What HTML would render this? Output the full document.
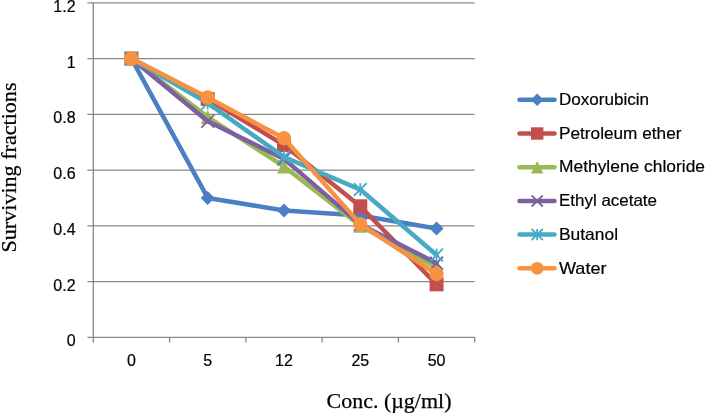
<!DOCTYPE html>
<html><head><meta charset="utf-8"><style>
html,body{margin:0;padding:0;background:#fff;}
body{width:705px;height:413px;overflow:hidden;position:relative;}
svg{position:absolute;left:0;top:0;will-change:transform;}
.t{font-family:"Liberation Sans",sans-serif;font-size:16px;fill:#000;stroke:#000;stroke-width:0.2px;}
.l{font-family:"Liberation Sans",sans-serif;font-size:16.5px;fill:#000;stroke:#000;stroke-width:0.2px;}
.s{font-family:"Liberation Serif",serif;font-size:22px;fill:#000;stroke:#000;stroke-width:0.25px;}
</style></head><body>
<svg width="705" height="413" viewBox="0 0 705 413">
<line x1="87.4" y1="337.30" x2="474.70" y2="337.30" stroke="#878787" stroke-width="1.3"/>
<line x1="87.4" y1="281.55" x2="474.70" y2="281.55" stroke="#878787" stroke-width="1.3"/>
<line x1="87.4" y1="225.80" x2="474.70" y2="225.80" stroke="#878787" stroke-width="1.3"/>
<line x1="87.4" y1="170.05" x2="474.70" y2="170.05" stroke="#878787" stroke-width="1.3"/>
<line x1="87.4" y1="114.30" x2="474.70" y2="114.30" stroke="#878787" stroke-width="1.3"/>
<line x1="87.4" y1="58.55" x2="474.70" y2="58.55" stroke="#878787" stroke-width="1.3"/>
<line x1="87.4" y1="2.80" x2="474.70" y2="2.80" stroke="#878787" stroke-width="1.3"/>
<line x1="93.30" y1="2.80" x2="93.30" y2="342.6" stroke="#878787" stroke-width="1.3"/>
<line x1="169.58" y1="337.30" x2="169.58" y2="342.6" stroke="#878787" stroke-width="1.3"/>
<line x1="245.86" y1="337.30" x2="245.86" y2="342.6" stroke="#878787" stroke-width="1.3"/>
<line x1="322.14" y1="337.30" x2="322.14" y2="342.6" stroke="#878787" stroke-width="1.3"/>
<line x1="398.42" y1="337.30" x2="398.42" y2="342.6" stroke="#878787" stroke-width="1.3"/>
<line x1="474.70" y1="337.30" x2="474.70" y2="342.6" stroke="#878787" stroke-width="1.3"/>
<text x="75.6" y="346.40" text-anchor="end" class="t">0</text>
<text x="75.6" y="290.65" text-anchor="end" class="t">0.2</text>
<text x="75.6" y="234.90" text-anchor="end" class="t">0.4</text>
<text x="75.6" y="179.15" text-anchor="end" class="t">0.6</text>
<text x="75.6" y="123.40" text-anchor="end" class="t">0.8</text>
<text x="75.6" y="67.65" text-anchor="end" class="t">1</text>
<text x="75.6" y="11.90" text-anchor="end" class="t">1.2</text>
<text x="131.44" y="366.2" text-anchor="middle" class="t">0</text>
<text x="207.72" y="366.2" text-anchor="middle" class="t">5</text>
<text x="284.00" y="366.2" text-anchor="middle" class="t">12</text>
<text x="360.28" y="366.2" text-anchor="middle" class="t">25</text>
<text x="436.56" y="366.2" text-anchor="middle" class="t">50</text>
<polyline points="131.44,58.55 207.72,197.93 284.00,210.47 360.28,215.49 436.56,228.59" fill="none" stroke="#4A7FC2" stroke-width="4.5" stroke-linejoin="round" stroke-linecap="round"/>
<path d="M131.44,51.55 L138.44,58.55 L131.44,65.55 L124.44,58.55Z" fill="#4A7FC2"/>
<path d="M207.72,190.93 L214.72,197.93 L207.72,204.93 L200.72,197.93Z" fill="#4A7FC2"/>
<path d="M284.00,203.47 L291.00,210.47 L284.00,217.47 L277.00,210.47Z" fill="#4A7FC2"/>
<path d="M360.28,208.49 L367.28,215.49 L360.28,222.49 L353.28,215.49Z" fill="#4A7FC2"/>
<path d="M436.56,221.59 L443.56,228.59 L436.56,235.59 L429.56,228.59Z" fill="#4A7FC2"/>
<polyline points="131.44,58.55 207.72,98.97 284.00,144.96 360.28,206.29 436.56,284.34" fill="none" stroke="#C34F4D" stroke-width="4.5" stroke-linejoin="round" stroke-linecap="round"/>
<rect x="124.44" y="51.55" width="14.00" height="14.00" fill="#C34F4D"/>
<rect x="200.72" y="91.97" width="14.00" height="14.00" fill="#C34F4D"/>
<rect x="277.00" y="137.96" width="14.00" height="14.00" fill="#C34F4D"/>
<rect x="353.28" y="199.29" width="14.00" height="14.00" fill="#C34F4D"/>
<rect x="429.56" y="277.34" width="14.00" height="14.00" fill="#C34F4D"/>
<polyline points="131.44,58.55 207.72,117.09 284.00,166.43 360.28,225.80 436.56,267.61" fill="none" stroke="#98B954" stroke-width="4.5" stroke-linejoin="round" stroke-linecap="round"/>
<path d="M131.44,51.55 L138.44,65.55 L124.44,65.55Z" fill="#98B954"/>
<path d="M207.72,110.09 L214.72,124.09 L200.72,124.09Z" fill="#98B954"/>
<path d="M284.00,159.43 L291.00,173.43 L277.00,173.43Z" fill="#98B954"/>
<path d="M360.28,218.80 L367.28,232.80 L353.28,232.80Z" fill="#98B954"/>
<path d="M436.56,260.61 L443.56,274.61 L429.56,274.61Z" fill="#98B954"/>
<polyline points="131.44,58.55 207.72,121.27 284.00,158.90 360.28,224.41 436.56,263.15" fill="none" stroke="#7D60A0" stroke-width="4.5" stroke-linejoin="round" stroke-linecap="round"/>
<path d="M125.04,52.15 L137.84,64.95 M137.84,52.15 L125.04,64.95" stroke="#7D60A0" stroke-width="1.8" fill="none"/>
<path d="M201.32,114.87 L214.12,127.67 M214.12,114.87 L201.32,127.67" stroke="#7D60A0" stroke-width="1.8" fill="none"/>
<path d="M277.60,152.50 L290.40,165.30 M290.40,152.50 L277.60,165.30" stroke="#7D60A0" stroke-width="1.8" fill="none"/>
<path d="M353.88,218.01 L366.68,230.81 M366.68,218.01 L353.88,230.81" stroke="#7D60A0" stroke-width="1.8" fill="none"/>
<path d="M430.16,256.75 L442.96,269.55 M442.96,256.75 L430.16,269.55" stroke="#7D60A0" stroke-width="1.8" fill="none"/>
<polyline points="131.44,58.55 207.72,103.15 284.00,156.95 360.28,189.56 436.56,255.07" fill="none" stroke="#46AAC5" stroke-width="4.5" stroke-linejoin="round" stroke-linecap="round"/>
<path d="M125.04,52.15 L137.84,64.95 M137.84,52.15 L125.04,64.95 M131.44,52.15 L131.44,64.95" stroke="#46AAC5" stroke-width="1.8" fill="none"/>
<path d="M201.32,96.75 L214.12,109.55 M214.12,96.75 L201.32,109.55 M207.72,96.75 L207.72,109.55" stroke="#46AAC5" stroke-width="1.8" fill="none"/>
<path d="M277.60,150.55 L290.40,163.35 M290.40,150.55 L277.60,163.35 M284.00,150.55 L284.00,163.35" stroke="#46AAC5" stroke-width="1.8" fill="none"/>
<path d="M353.88,183.16 L366.68,195.96 M366.68,183.16 L353.88,195.96 M360.28,183.16 L360.28,195.96" stroke="#46AAC5" stroke-width="1.8" fill="none"/>
<path d="M430.16,248.67 L442.96,261.47 M442.96,248.67 L430.16,261.47 M436.56,248.67 L436.56,261.47" stroke="#46AAC5" stroke-width="1.8" fill="none"/>
<polyline points="131.44,58.55 207.72,97.57 284.00,138.27 360.28,224.13 436.56,274.02" fill="none" stroke="#F69240" stroke-width="4.5" stroke-linejoin="round" stroke-linecap="round"/>
<circle cx="131.44" cy="58.55" r="7.20" fill="#F69240"/>
<circle cx="207.72" cy="97.57" r="7.20" fill="#F69240"/>
<circle cx="284.00" cy="138.27" r="7.20" fill="#F69240"/>
<circle cx="360.28" cy="224.13" r="7.20" fill="#F69240"/>
<circle cx="436.56" cy="274.02" r="7.20" fill="#F69240"/>
<line x1="519.5" y1="99.80" x2="554.5" y2="99.80" stroke="#4A7FC2" stroke-width="4.5" stroke-linecap="round"/>
<path d="M537.20,93.60 L543.40,99.80 L537.20,106.00 L531.00,99.80Z" fill="#4A7FC2"/>
<text x="559.0" y="105.00" class="l" textLength="90" lengthAdjust="spacingAndGlyphs">Doxorubicin</text>
<line x1="519.5" y1="133.50" x2="554.5" y2="133.50" stroke="#C34F4D" stroke-width="4.5" stroke-linecap="round"/>
<rect x="531.00" y="127.30" width="12.40" height="12.40" fill="#C34F4D"/>
<text x="559.0" y="138.70" class="l" textLength="122.5" lengthAdjust="spacingAndGlyphs">Petroleum ether</text>
<line x1="519.5" y1="167.20" x2="554.5" y2="167.20" stroke="#98B954" stroke-width="4.5" stroke-linecap="round"/>
<path d="M537.20,161.00 L543.40,173.40 L531.00,173.40Z" fill="#98B954"/>
<text x="559.0" y="172.40" class="l" textLength="146" lengthAdjust="spacingAndGlyphs">Methylene chloride</text>
<line x1="519.5" y1="200.90" x2="554.5" y2="200.90" stroke="#7D60A0" stroke-width="4.5" stroke-linecap="round"/>
<path d="M531.60,195.30 L542.80,206.50 M542.80,195.30 L531.60,206.50" stroke="#7D60A0" stroke-width="1.8" fill="none"/>
<text x="559.0" y="206.10" class="l" textLength="98" lengthAdjust="spacingAndGlyphs">Ethyl acetate</text>
<line x1="519.5" y1="234.60" x2="554.5" y2="234.60" stroke="#46AAC5" stroke-width="4.5" stroke-linecap="round"/>
<path d="M531.60,229.00 L542.80,240.20 M542.80,229.00 L531.60,240.20 M537.20,229.00 L537.20,240.20" stroke="#46AAC5" stroke-width="1.8" fill="none"/>
<text x="559.0" y="239.80" class="l" textLength="59" lengthAdjust="spacingAndGlyphs">Butanol</text>
<line x1="519.5" y1="268.30" x2="554.5" y2="268.30" stroke="#F69240" stroke-width="4.5" stroke-linecap="round"/>
<circle cx="537.20" cy="268.30" r="6.40" fill="#F69240"/>
<text x="559.0" y="273.50" class="l" textLength="47.5" lengthAdjust="spacingAndGlyphs">Water</text>
<text x="326.5" y="407.8" class="s" textLength="125" lengthAdjust="spacingAndGlyphs">Conc. (µg/ml)</text>
<text transform="translate(15.8,252.5) rotate(-90)" x="0" y="0" class="s" textLength="170" lengthAdjust="spacingAndGlyphs">Surviving fractions</text>
</svg>
</body></html>
